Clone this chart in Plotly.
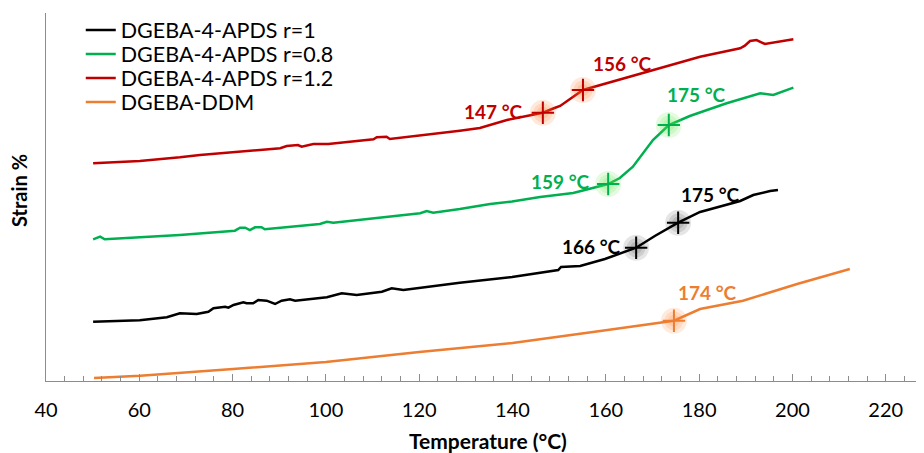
import plotly.graph_objects as go

# ---- data (temperature in °C, strain in arbitrary %) ----
T_r1 = [50.1, 60.1, 65.9, 68.7, 72.3, 74.8, 75.9, 78.4, 79.1, 80.2, 82.3, 83.0, 84.4, 85.5, 87.3,
        89.1, 90.5, 92.3, 93.4, 100.2, 103.4, 106.6, 112.0, 114.1, 116.6, 128.7, 139.9, 145.9,
        149.8, 150.4, 154.5, 159.8, 166.5, 170.5, 175.5, 180.2, 184.5, 188.8, 191.6, 195.2, 196.9]
S_r1 = [0.593, 0.608, 0.637, 0.677, 0.670, 0.693, 0.727, 0.743, 0.733, 0.760, 0.787, 0.777, 0.777,
        0.810, 0.803, 0.770, 0.803, 0.817, 0.803, 0.837, 0.877, 0.860, 0.893, 0.927, 0.910, 0.983,
        1.040, 1.080, 1.110, 1.140, 1.150, 1.220, 1.333, 1.450, 1.583, 1.690, 1.743, 1.800, 1.860,
        1.900, 1.910]

T_r08 = [50.1, 51.6, 52.6, 60.1, 68.7, 80.5, 81.6, 82.7, 83.7, 84.8, 86.2, 86.9, 98.7, 100.2, 101.6,
         120.2, 121.6, 123.0, 128.7, 135.2, 139.9, 145.9, 153.0, 160.5, 163.0, 165.8, 170.1, 173.5,
         178.0, 181.7, 185.9, 193.1, 195.9, 200.2]
S_r08 = [1.417, 1.443, 1.417, 1.435, 1.460, 1.503, 1.533, 1.533, 1.510, 1.537, 1.537, 1.517, 1.570,
         1.593, 1.583, 1.677, 1.700, 1.683, 1.720, 1.770, 1.795, 1.840, 1.880, 1.970, 2.030, 2.143,
         2.410, 2.560, 2.650, 2.710, 2.777, 2.877, 2.860, 2.933]

T_r12 = [50.1, 60.1, 68.7, 73.0, 90.2, 91.6, 94.0, 94.8, 97.3, 100.5, 110.2, 110.9, 113.0, 113.7,
         128.7, 133.0, 138.8, 146.5, 149.0, 150.2, 155.1, 158.8, 169.5, 180.2, 188.8, 189.8, 190.9,
         192.3, 194.1, 200.2]
S_r12 = [2.177, 2.200, 2.237, 2.260, 2.327, 2.350, 2.360, 2.343, 2.370, 2.370, 2.417, 2.437, 2.443,
         2.420, 2.503, 2.530, 2.610, 2.683, 2.730, 2.750, 2.910, 2.960, 3.100, 3.243, 3.327, 3.353,
         3.400, 3.410, 3.370, 3.417]

T_ddm = [50.3, 60.2, 80.1, 100.0, 120.0, 140.0, 158.8, 174.6, 180.2, 189.4, 201.0, 212.3]
S_ddm = [0.030, 0.053, 0.120, 0.190, 0.290, 0.380, 0.500, 0.603, 0.720, 0.803, 0.970, 1.120]

series_names = ["DGEBA-4-APDS r=1", "DGEBA-4-APDS r=0.8", "DGEBA-4-APDS r=1.2", "DGEBA-DDM"]
series_colors = ["#000000", "#00B050", "#C00000", "#ED7D31"]
glow_colors = ["rgba(0,0,0,0.10)", "rgba(90,230,60,0.16)", "rgba(255,120,40,0.16)", "rgba(255,130,50,0.16)"]

# transition markers (T, strain) and labels
mark_T = [[166.5, 175.5], [160.5, 173.5], [146.5, 155.1], [174.6]]
mark_S = [[1.333, 1.583], [1.970, 2.560], [2.683, 2.910], [0.603]]
label_text = [["166 °C", "175 °C"], ["159 °C", "175 °C"], ["147 °C", "156 °C"], ["174 °C"]]
label_T = [[157.0, 182.4], [150.3, 179.5], [136.0, 163.5], [181.7]]
label_S = [[1.35, 1.87], [2.00, 2.87], [2.70, 3.18], [0.89]]

x_ticks = [40, 60, 80, 100, 120, 140, 160, 180, 200, 220]
x_title = "Temperature (°C)"
y_title = "Strain %"

FONT = "Lato"
PLOT_H = 368.0
legend_row_px = [17, 41, 65, 89]   # row centres, px below the plot top

fig = go.Figure()
curves = [(T_r1, S_r1), (T_r08, S_r08), (T_r12, S_r12), (T_ddm, S_ddm)]
legend_ids = ["legend", "legend2", "legend3", "legend4"]
for i, (tx, sy) in enumerate(curves):
    fig.add_trace(go.Scatter(x=tx, y=sy, mode="lines", name=series_names[i], legend=legend_ids[i],
                             line=dict(color=series_colors[i], width=2.5)))

for i in range(4):
    for size in (26, 19, 12):
        fig.add_trace(go.Scatter(x=mark_T[i], y=mark_S[i], mode="markers", showlegend=False,
                                 hoverinfo="skip",
                                 marker=dict(symbol="circle", size=size, color=glow_colors[i],
                                             line=dict(width=0))))
    fig.add_trace(go.Scatter(x=mark_T[i], y=mark_S[i], mode="markers", showlegend=False,
                             marker=dict(symbol="cross-thin", size=16,
                                         line=dict(color=series_colors[i], width=2))))
    for t, s, txt in zip(label_T[i], label_S[i], label_text[i]):
        fig.add_annotation(x=t, y=s, text="<b>%s</b>" % txt, showarrow=False,
                           font=dict(family=FONT, size=19, color=series_colors[i]))

# axis titles (positioned in paper coordinates)
fig.add_annotation(xref="paper", yref="paper", x=0.5034, y=-0.163, text="<b>%s</b>" % x_title,
                   showarrow=False, xanchor="center", yanchor="middle",
                   font=dict(family=FONT, size=21, color="#000000"))
fig.add_annotation(xref="paper", yref="paper", x=-0.0308, y=0.519, text="<b>%s</b>" % y_title,
                   showarrow=False, xanchor="center", yanchor="middle", textangle=-90,
                   font=dict(family=FONT, size=20, color="#000000"))

legend_common = dict(x=0.0396, xanchor="left", yanchor="middle",
                     font=dict(family=FONT, size=21.5, color="#000000"),
                     bgcolor="rgba(0,0,0,0)")
legends = {}
for k, lid in enumerate(legend_ids):
    legends[lid] = dict(legend_common, y=1 - legend_row_px[k] / PLOT_H)

fig.update_layout(
    width=924, height=453,
    margin=dict(l=38, r=8, t=5, b=80, autoexpand=False),
    paper_bgcolor="white", plot_bgcolor="white",
    font=dict(family=FONT, color="#000000"),
    xaxis=dict(range=[40, 228.2], tickvals=x_ticks, ticktext=[str(v) for v in x_ticks],
               automargin=False, ticklabelstandoff=11,
               showgrid=False, zeroline=False, showline=True, linecolor="#8C8C8C", linewidth=1,
               ticks="inside", ticklen=7, tickcolor="#8C8C8C", tickfont=dict(size=20, family=FONT),
               minor=dict(dtick=4, tick0=40, ticks="inside", ticklen=5, tickcolor="#8C8C8C", showgrid=False)),
    yaxis=dict(range=[0, 3.68], showticklabels=False, showgrid=False, zeroline=False,
               automargin=False,
               showline=True, linecolor="#8C8C8C", linewidth=1, ticks=""),
    **legends,
)

fig.write_html("out.html")
